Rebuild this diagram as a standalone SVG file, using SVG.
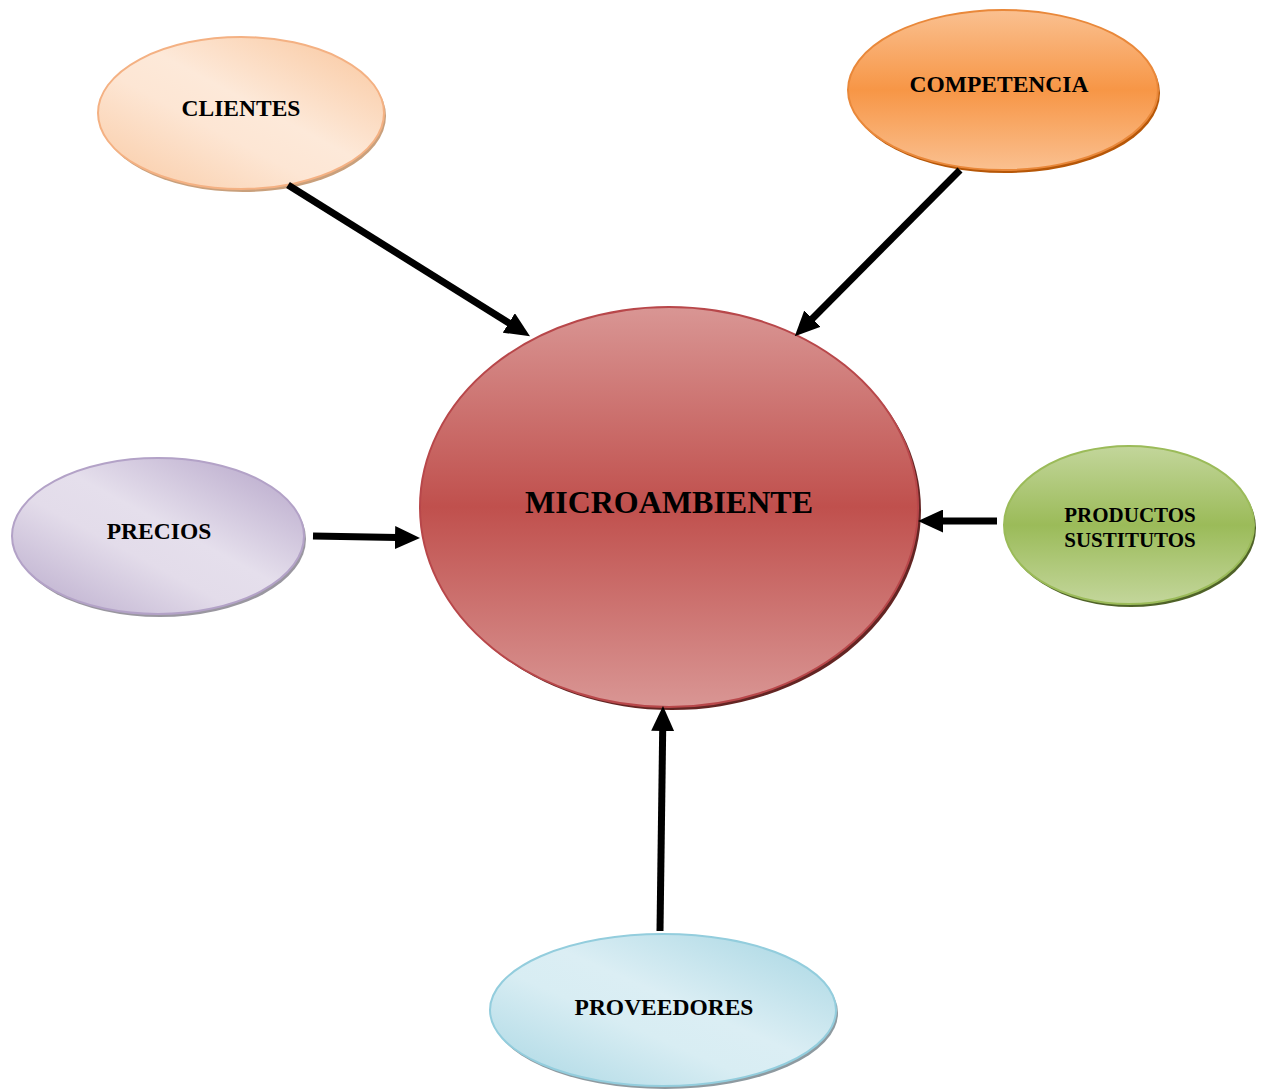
<svg xmlns="http://www.w3.org/2000/svg" width="1266" height="1089" viewBox="0 0 1266 1089">
  <style>
    .lbl { font-family: "Liberation Serif", "Times New Roman", serif; font-weight: bold; fill: #000; text-anchor: middle; dominant-baseline: central; }
    .conn { stroke: #000; stroke-width: 7; fill: none; marker-end: url(#head); }
  </style>
  <defs>
    <marker id="head" markerUnits="userSpaceOnUse" markerWidth="25" markerHeight="23" refX="2" refY="11.5" orient="auto" viewBox="0 0 25 23">
      <path d="M0,0 L25,11.5 L0,23 z" fill="#000"/>
    </marker>
    <linearGradient id="gClientes" x1="1" y1="0" x2="0" y2="1">
      <stop offset="0" stop-color="#f9c59b"/>
      <stop offset="0.45" stop-color="#fde9d9"/>
      <stop offset="0.6" stop-color="#fde6d4"/>
      <stop offset="1" stop-color="#f9c9a2"/>
    </linearGradient>
    <linearGradient id="gCompetencia" x1="0" y1="0" x2="0" y2="1">
      <stop offset="0" stop-color="#fac090"/>
      <stop offset="0.5" stop-color="#f79646"/>
      <stop offset="1" stop-color="#fac090"/>
    </linearGradient>
    <linearGradient id="gPrecios" x1="1" y1="0" x2="0" y2="1">
      <stop offset="0" stop-color="#b3a2c7"/>
      <stop offset="0.45" stop-color="#e5dfec"/>
      <stop offset="0.6" stop-color="#e3dcea"/>
      <stop offset="1" stop-color="#b7a8ca"/>
    </linearGradient>
    <linearGradient id="gProductos" x1="0" y1="0" x2="0" y2="1">
      <stop offset="0" stop-color="#c3d69b"/>
      <stop offset="0.5" stop-color="#9bbb59"/>
      <stop offset="1" stop-color="#c3d69b"/>
    </linearGradient>
    <linearGradient id="gProveedores" x1="1" y1="0" x2="0" y2="1">
      <stop offset="0" stop-color="#a5d5e2"/>
      <stop offset="0.45" stop-color="#dbeef4"/>
      <stop offset="0.6" stop-color="#d8edf3"/>
      <stop offset="1" stop-color="#a8d6e3"/>
    </linearGradient>
    <linearGradient id="gMicro" x1="0" y1="0" x2="0" y2="1">
      <stop offset="0" stop-color="#d99694"/>
      <stop offset="0.5" stop-color="#c0504d"/>
      <stop offset="1" stop-color="#d99694"/>
    </linearGradient>
  </defs>

  <!-- central node -->
  <g id="microambiente">
    <ellipse cx="672" cy="510" rx="249" ry="200" fill="#632523"/>
    <ellipse cx="669" cy="507" rx="249" ry="200" fill="url(#gMicro)" stroke="#b8474a" stroke-width="2"/>
    <text class="lbl" x="669" y="502" font-size="32">MICROAMBIENTE</text>
  </g>

  <g id="clientes">
    <ellipse cx="243" cy="116" rx="143" ry="76" fill="#c9a07c"/>
    <ellipse cx="241" cy="113" rx="143" ry="76" fill="url(#gClientes)" stroke="#f4b183" stroke-width="2"/>
    <text class="lbl" x="241" y="108" font-size="23.5">CLIENTES</text>
  </g>

  <g id="competencia">
    <ellipse cx="1005" cy="93" rx="155" ry="80" fill="#b65708"/>
    <ellipse cx="1003" cy="90" rx="155" ry="80" fill="url(#gCompetencia)" stroke="#e9883a" stroke-width="2"/>
    <text class="lbl" x="999" y="84" font-size="23.5">COMPETENCIA</text>
  </g>

  <g id="precios">
    <ellipse cx="160" cy="539" rx="146" ry="78" fill="#9a97a0"/>
    <ellipse cx="158" cy="536" rx="146" ry="78" fill="url(#gPrecios)" stroke="#b3a2c7" stroke-width="2"/>
    <text class="lbl" x="159" y="531" font-size="23.5">PRECIOS</text>
  </g>

  <g id="productos-sustitutos">
    <ellipse cx="1131" cy="528" rx="125" ry="79" fill="#4f6228"/>
    <ellipse cx="1129" cy="525" rx="125" ry="79" fill="url(#gProductos)" stroke="#9bbb59" stroke-width="2"/>
    <text class="lbl" x="1130" y="515" font-size="21">PRODUCTOS</text>
    <text class="lbl" x="1130" y="540" font-size="21">SUSTITUTOS</text>
  </g>

  <g id="proveedores">
    <ellipse cx="665" cy="1013" rx="173" ry="76" fill="#8e9aa0"/>
    <ellipse cx="663" cy="1010" rx="173" ry="76" fill="url(#gProveedores)" stroke="#93cddd" stroke-width="2"/>
    <text class="lbl" x="664" y="1007" font-size="23.5">PROVEEDORES</text>
  </g>

  <!-- arrows pointing into the central node -->
  <g id="connectors">
    <line class="conn" x1="288" y1="185" x2="510.5" y2="324"/>
    <line class="conn" x1="960" y1="170" x2="811" y2="320"/>
    <line class="conn" x1="313" y1="536" x2="397" y2="537.6"/>
    <line class="conn" x1="997" y1="521" x2="941" y2="521"/>
    <line class="conn" x1="660" y1="931" x2="662.7" y2="729"/>
  </g>
</svg>
